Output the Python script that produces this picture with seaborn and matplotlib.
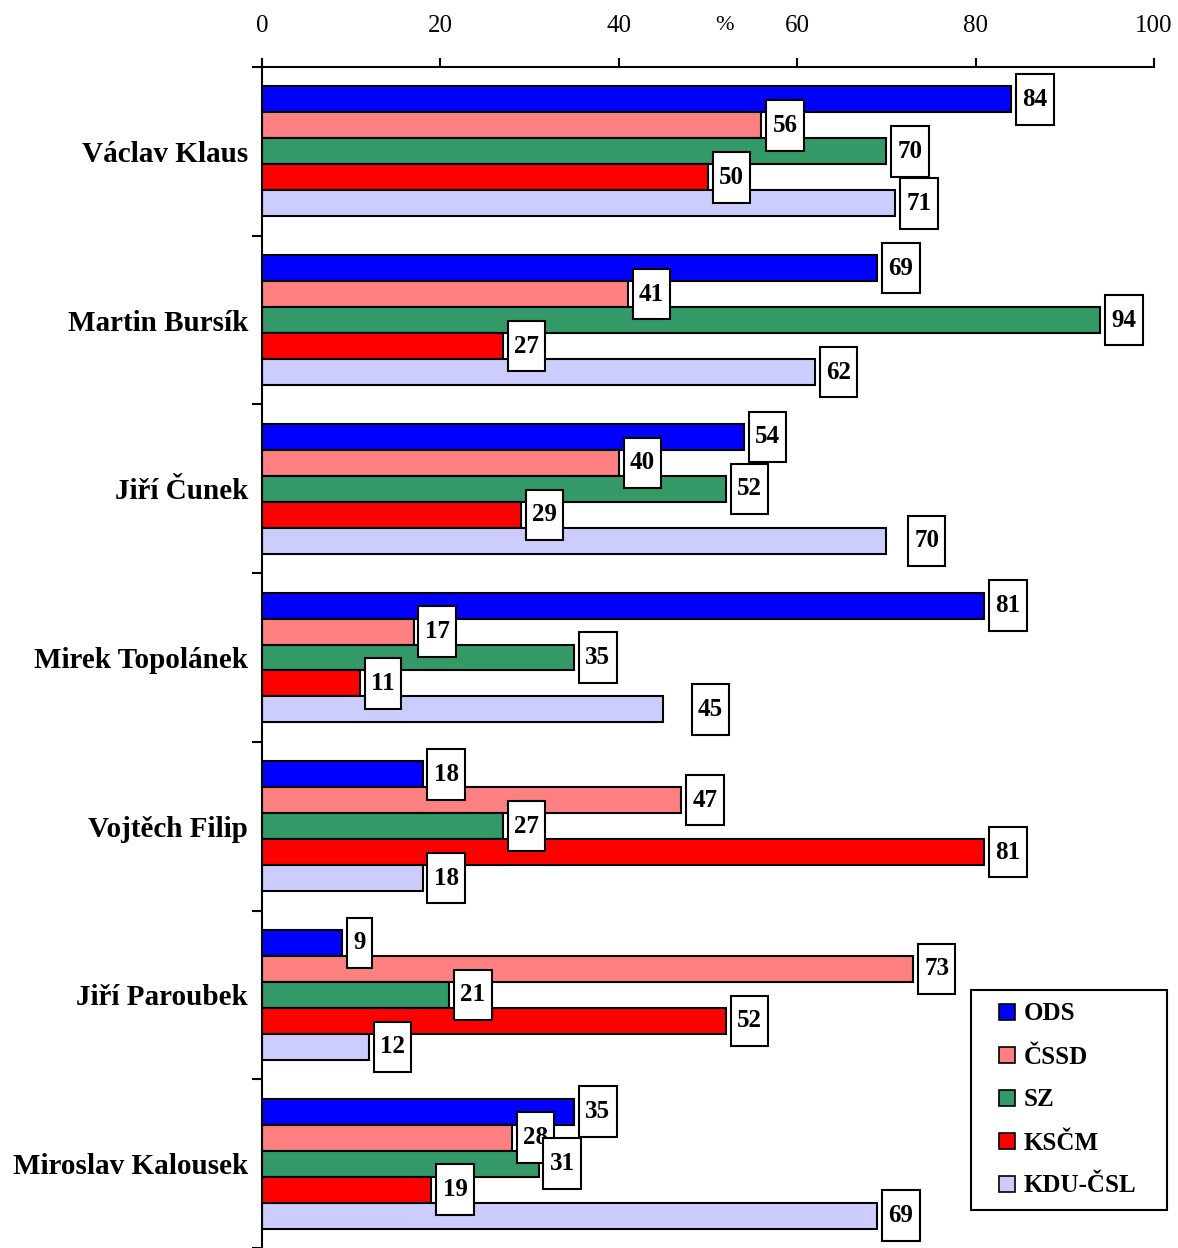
import pandas as pd
import matplotlib.pyplot as plt
from matplotlib.lines import Line2D
from matplotlib.path import Path
import seaborn as sns

# %% Datos
politici = ['Václav Klaus', 'Martin Bursík', 'Jiří Čunek', 'Mirek Topolánek',
            'Vojtěch Filip', 'Jiří Paroubek', 'Miroslav Kalousek']
strany = ['ODS', 'ČSSD', 'SZ', 'KSČM', 'KDU-ČSL']

ods = [84, 69, 54, 81, 18, 9, 35]
cssd = [56, 41, 40, 17, 47, 73, 28]
sz = [70, 94, 52, 35, 27, 21, 31]
kscm = [50, 27, 29, 11, 81, 52, 19]
kdu = [71, 62, 70, 45, 18, 12, 69]

barvy = ['#0000FF', '#FF8080', '#339966', '#FF0000', '#CCCCFF']
xticks = [0, 20, 40, 60, 80, 100]

hodnoty = [ods, cssd, sz, kscm, kdu]
df = pd.DataFrame({
    'jmeno': [p for _ in strany for p in politici],
    'strana': [s for s in strany for _ in politici],
    'hodnota': [v for serie in hodnoty for v in serie],
})

# posun nekterych popisku (body)
posun = {(2, 4): 12, (3, 4): 17}


# ramecek s ruznym odsazenim vodorovne / svisle
def ramecek(x0, y0, width, height, mutation_size):
    px = 0.25 * mutation_size
    py = 0.55 * mutation_size
    x0, y0 = x0 - px, y0 - py
    x1, y1 = x0 + width + 2 * px, y0 + height + 2 * py
    return Path([(x0, y0), (x1, y0), (x1, y1), (x0, y1), (x0, y0)],
                closed=True)


# %% Graf
sns.set_style('white')
plt.rcParams['font.family'] = ['Liberation Serif', 'DejaVu Serif']
plt.rcParams['text.color'] = 'black'
plt.rcParams['xtick.color'] = 'black'
plt.rcParams['ytick.color'] = 'black'
plt.rcParams['axes.labelcolor'] = 'black'

fig = plt.figure(figsize=(11.78, 12.48), dpi=100)
ax = fig.add_axes([0.2224, 0.0, 0.9796 - 0.2224, 0.9463])

sns.barplot(data=df, x='hodnota', y='jmeno', hue='strana', order=politici,
            hue_order=strany, palette=barvy, orient='h', width=0.77,
            edgecolor='black', linewidth=1.5, saturation=1, ax=ax)

ax.set_xlim(0, 100)
ax.set_ylim(6.5, -0.5)
ax.xaxis.tick_top()
ax.set_xticks(xticks)
ax.set_xticklabels([str(t) for t in xticks], fontsize=18)
ax.tick_params(axis='x', direction='out', length=6.5, width=1.5, pad=15)
ax.set_xlabel('')
ax.set_ylabel('')
ax.text(0.518, 1.035, '%', transform=ax.transAxes, fontsize=16,
        ha='center', va='center')

# kategorie na stred skupiny, ticky na hranicich
ax.set_yticks(range(len(politici)))
ax.set_yticklabels(politici, fontsize=21, fontweight='bold')
ax.set_yticks([i - 0.5 for i in range(len(politici) + 1)], minor=True)
ax.tick_params(axis='y', which='major', length=0, pad=10)
ax.tick_params(axis='y', which='minor', direction='out', length=7, width=1.5,
               left=True)

for side in ['right', 'bottom']:
    ax.spines[side].set_visible(False)
for side in ['left', 'top']:
    ax.spines[side].set_linewidth(1.5)
    ax.spines[side].set_color('black')

# popisky hodnot v ramecku
for i in range(len(politici)):
    for j in range(len(strany)):
        bar = ax.containers[j][i]
        x = bar.get_width()
        yc = bar.get_y() + bar.get_height() / 2
        dx = 8 + posun.get((i, j), 0)
        ax.annotate(f'{int(x)}', xy=(x, yc), xytext=(dx, 0),
                    textcoords='offset points', ha='left', va='center',
                    fontsize=18, fontweight='bold', zorder=5,
                    bbox=dict(boxstyle=ramecek, facecolor='white',
                              edgecolor='black', linewidth=1.5))

# legenda
handles = [Line2D([], [], marker='s', markersize=11.5, markerfacecolor=c,
                  markeredgecolor='black', markeredgewidth=1.2,
                  linestyle='none') for c in barvy]
ax.get_legend().remove()
leg = ax.legend(handles, strany, loc='upper left', mode='expand',
                bbox_to_anchor=(971 / 1178, 1 - 1211 / 1248, 196 / 1178, 221 / 1248),
                bbox_transform=fig.transFigure,
                borderaxespad=0, prop={'size': 18, 'weight': 'bold'},
                handlelength=1.9, handletextpad=-0.3,
                labelspacing=0.8, borderpad=0.5, fancybox=False,
                frameon=True, edgecolor='black', framealpha=1)
leg.get_frame().set_linewidth(1.5)
leg.set_zorder(10)

fig.savefig('out.png', dpi=100)
